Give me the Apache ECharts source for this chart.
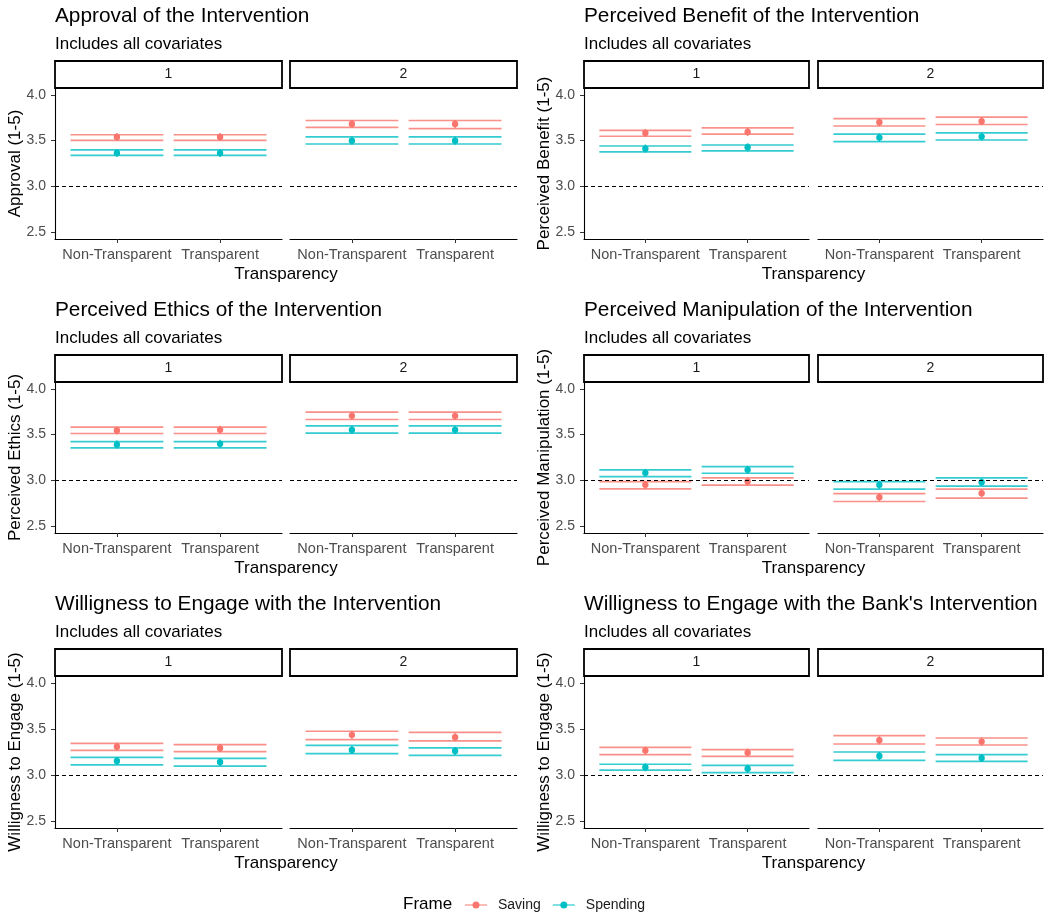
<!DOCTYPE html>
<html>
<head>
<meta charset="utf-8">
<title>Intervention ratings by frame and transparency</title>
<script src="https://cdn.jsdelivr.net/npm/echarts@6/dist/echarts.min.js"></script>
<style>
  body { margin: 0; background: #fff; }
  #chart { width: 1050px; height: 914px; }
</style>
</head>
<body>
<div id="chart"></div>
<script>
var panelTitles = [
  'Approval of the Intervention',
  'Perceived Benefit of the Intervention',
  'Perceived Ethics of the Intervention',
  'Perceived Manipulation of the Intervention',
  'Willigness to Engage with the Intervention',
  "Willigness to Engage with the Bank's Intervention"
];
var yTitles = [
  'Approval (1-5)',
  'Perceived Benefit (1-5)',
  'Perceived Ethics (1-5)',
  'Perceived Manipulation (1-5)',
  'Willigness to Engage (1-5)',
  'Willigness to Engage (1-5)'
];
var subtitle = 'Includes all covariates';
var xTitle = 'Transparency';
var categories = ['Non-Transparent', 'Transparent'];
var facets = ['1', '2'];
var yTicks = [2.5, 3.0, 3.5, 4.0];
var referenceLevel = 3;
var frames = ['Saving', 'Spending'];
var frameColors = ['#F8766D', '#00BFC4'];

// [lower, estimate, upper] for: facet 1 Non-Transparent, facet 1 Transparent, facet 2 Non-Transparent, facet 2 Transparent
var approvalSaving = [[3.502, 3.539, 3.564], [3.502, 3.539, 3.564], [3.644, 3.681, 3.720], [3.630, 3.681, 3.720]];
var approvalSpending = [[3.339, 3.365, 3.398], [3.339, 3.365, 3.398], [3.463, 3.499, 3.542], [3.463, 3.499, 3.542]];
var benefitSaving = [[3.548, 3.584, 3.613], [3.570, 3.595, 3.639], [3.660, 3.701, 3.741], [3.676, 3.712, 3.756]];
var benefitSpending = [[3.376, 3.413, 3.441], [3.387, 3.427, 3.452], [3.490, 3.533, 3.570], [3.507, 3.544, 3.584]];
var ethicsSaving = [[3.512, 3.545, 3.581], [3.512, 3.552, 3.581], [3.665, 3.705, 3.745], [3.665, 3.705, 3.745]];
var ethicsSpending = [[3.355, 3.391, 3.424], [3.355, 3.399, 3.424], [3.516, 3.552, 3.596], [3.516, 3.552, 3.596]];
var manipulationSaving = [[2.907, 2.951, 2.987], [2.948, 2.987, 3.027], [2.769, 2.816, 2.856], [2.805, 2.860, 2.904]];
var manipulationSpending = [[3.042, 3.082, 3.115], [3.078, 3.115, 3.151], [2.904, 2.951, 2.987], [2.937, 2.980, 3.027]];
var engageSaving = [[3.268, 3.308, 3.344], [3.254, 3.294, 3.330], [3.385, 3.436, 3.475], [3.370, 3.410, 3.464]];
var engageSpending = [[3.111, 3.152, 3.191], [3.097, 3.141, 3.180], [3.232, 3.272, 3.322], [3.213, 3.261, 3.294]];
var bankSaving = [[3.222, 3.265, 3.301], [3.203, 3.243, 3.276], [3.337, 3.377, 3.428], [3.326, 3.363, 3.402]];
var bankSpending = [[3.054, 3.084, 3.117], [3.026, 3.069, 3.105], [3.160, 3.207, 3.250], [3.149, 3.185, 3.221]];

var panelData = [
  [approvalSaving, approvalSpending],
  [benefitSaving, benefitSpending],
  [ethicsSaving, ethicsSpending],
  [manipulationSaving, manipulationSpending],
  [engageSaving, engageSpending],
  [bankSaving, bankSpending]
];

// layout (px)
var facetLeft = [[55, 290], [584, 818]];
var facetWidth = [[227, 227], [225, 225]];
var rowTop = [88, 382, 676];
var rowHeight = [151, 151, 152];
var stripH = 27;
var fontFam = "'Liberation Sans', Arial, sans-serif";

var chart = echarts.init(document.getElementById('chart'));

function renderErrorbar(params, api) {
  var x = api.value(0), lo = api.value(1), mid = api.value(2), hi = api.value(3);
  var a = api.coord([x - 0.45, lo]);
  var b = api.coord([x + 0.45, hi]);
  var c = api.coord([x, mid]);
  var color = api.visual('color');
  return {
    type: 'group',
    children: [
      { type: 'line', shape: { x1: a[0], y1: b[1], x2: b[0], y2: b[1] }, style: { stroke: color, lineWidth: 1.7, opacity: 0.8 } },
      { type: 'line', shape: { x1: a[0], y1: a[1], x2: b[0], y2: a[1] }, style: { stroke: color, lineWidth: 1.7, opacity: 0.8 } },
      { type: 'line', shape: { x1: c[0], y1: c[1] - 4, x2: c[0], y2: c[1] + 4 }, style: { stroke: color, lineWidth: 1.5 } },
      { type: 'circle', shape: { cx: c[0], cy: c[1], r: 3.2 }, style: { fill: color } }
    ]
  };
}

var grids = [], xAxes = [], yAxes = [], series = [], graphics = [];

for (var p = 0; p < 6; p++) {
  var rowIdx = Math.floor(p / 2), colIdx = p % 2;
  var plotY = rowTop[rowIdx], plotH = rowHeight[rowIdx];
  var left0 = facetLeft[colIdx][0];
  var right1 = facetLeft[colIdx][1] + facetWidth[colIdx][1];

  graphics.push({ type: 'text', x: left0, y: plotY - 71.5, style: { text: panelTitles[p], font: '20.8px ' + fontFam, fill: '#000', textVerticalAlign: 'middle' } });
  graphics.push({ type: 'text', x: left0, y: plotY - 44, style: { text: subtitle, font: '17px ' + fontFam, fill: '#000', textVerticalAlign: 'middle' } });
  graphics.push({ type: 'text', x: (left0 + right1) / 2, y: plotY + plotH + 35, style: { text: xTitle, font: '17px ' + fontFam, fill: '#000', textAlign: 'center', textVerticalAlign: 'middle' } });
  graphics.push({ type: 'text', x: left0 - 40, y: plotY + plotH / 2, rotation: Math.PI / 2, style: { text: yTitles[p], font: '17px ' + fontFam, fill: '#000', textAlign: 'center', textVerticalAlign: 'middle' } });

  for (var fi = 0; fi < 2; fi++) {
    var gi = grids.length;
    var gLeft = facetLeft[colIdx][fi], gW = facetWidth[colIdx][fi];
    grids.push({ left: gLeft, top: plotY, width: gW, height: plotH });

    graphics.push({ type: 'rect', shape: { x: gLeft, y: plotY - stripH, width: gW, height: stripH }, style: { fill: '#fff', stroke: '#000', lineWidth: 1.8 } });
    graphics.push({ type: 'text', x: gLeft + gW / 2, y: plotY - stripH / 2, style: { text: facets[fi], font: '14px ' + fontFam, fill: '#1A1A1A', textAlign: 'center', textVerticalAlign: 'middle' } });

    xAxes.push({
      type: 'value', gridIndex: gi, min: 0.4, max: 2.6,
      splitLine: { show: false },
      axisLine: { lineStyle: { color: '#000', width: 1.1 } },
      axisTick: { customValues: [1, 2], length: 4, lineStyle: { color: '#333' } },
      axisLabel: {
        customValues: [1, 2], margin: 8, fontSize: 14.5, color: '#4D4D4D', fontFamily: fontFam,
        formatter: function (v) { return categories[Math.round(v) - 1]; }
      }
    });
    yAxes.push({
      type: 'value', gridIndex: gi, min: 2.425, max: 4.075, show: fi === 0,
      splitLine: { show: false },
      axisLine: { show: true, lineStyle: { color: '#000', width: 1.1 } },
      axisTick: { show: true, customValues: yTicks, length: 4, lineStyle: { color: '#333' } },
      axisLabel: {
        customValues: yTicks, margin: 9, fontSize: 14, color: '#4D4D4D', fontFamily: fontFam,
        formatter: function (v) { return Number(v).toFixed(1); }
      }
    });

    for (var si = 0; si < 2; si++) {
      var vals = panelData[p][si];
      var rows = [];
      for (var ci = 0; ci < categories.length; ci++) {
        var v = vals[fi * 2 + ci];
        rows.push([ci + 1, v[0], v[1], v[2]]);
      }
      var ser = {
        type: 'custom', name: frames[si], xAxisIndex: gi, yAxisIndex: gi,
        itemStyle: { color: frameColors[si] },
        renderItem: renderErrorbar,
        encode: { x: 0, y: [1, 2, 3] },
        data: rows, silent: true
      };
      if (si === 1) {
        ser.markLine = {
          silent: true, symbol: 'none', label: { show: false },
          lineStyle: { color: '#000', type: [4, 3], width: 1.2 },
          data: [{ yAxis: referenceLevel }]
        };
      }
      series.push(ser);
    }
  }
}

graphics.push({ type: 'text', x: 403, y: 904, style: { text: 'Frame', font: '17px ' + fontFam, fill: '#000', textVerticalAlign: 'middle' } });

chart.setOption({
  backgroundColor: '#fff',
  animation: false,
  textStyle: { fontFamily: fontFam },
  grid: grids,
  xAxis: xAxes,
  yAxis: yAxes,
  series: series,
  legend: {
    data: frames, left: 460, top: 893, itemWidth: 22, itemHeight: 7, itemGap: 12,
    icon: 'path://M0,3 H22 V4 H0 Z M11,0 A3.5,3.5 0 1,1 11,7 A3.5,3.5 0 1,1 11,0 Z',
    textStyle: { fontSize: 14, color: '#1A1A1A', padding: [0, 0, 0, 6] },
    selectedMode: false
  },
  graphic: graphics
});
</script>
</body>
</html>
